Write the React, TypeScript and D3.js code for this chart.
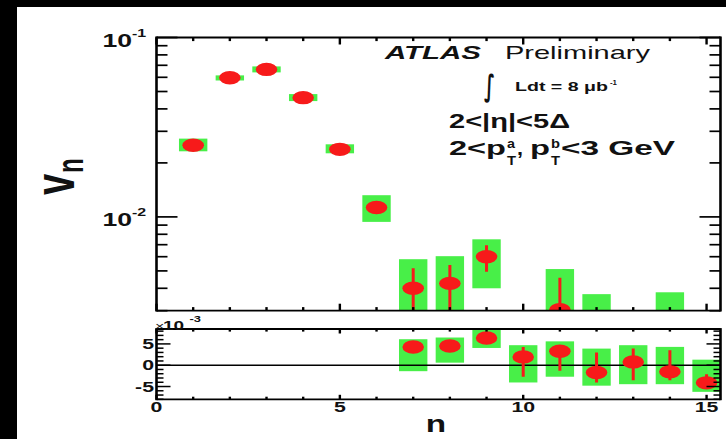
import React from 'react';
import * as d3 from 'd3';

// ---------- data ----------
const harmonics = [1, 2, 3, 4, 5, 6, 7, 8, 9, 10, 11, 12, 13, 14, 15];
// upper panel (log scale) v_n; null = not visible in range
const upperValue = [0.02506, 0.0597, 0.0664, 0.0462, 0.0238, 0.01128, 0.004, 0.00426, 0.006, null, 0.00304, null, null, null, null];
const upperStatLow = [0.0248, 0.0591, 0.0658, 0.0457, 0.0235, 0.0111, 0.0025, 0.0028, 0.00495, null, 0.0015, null, null, null, null];
const upperStatHigh = [0.0253, 0.0603, 0.067, 0.0467, 0.0241, 0.01145, 0.00518, 0.00539, 0.00696, null, 0.00458, null, null, null, null];
const upperSystLow = [0.02321, 0.0576, 0.0639, 0.04421, 0.02262, 0.00938, 0.002, 0.002, 0.004, null, 0.0015, 0.0015, null, 0.0015, null];
const upperSystHigh = [0.02731, 0.0615, 0.069, 0.04837, 0.02539, 0.01321, 0.00581, 0.00604, 0.0075, null, 0.00512, 0.00371, null, 0.0038, null];

// lower panel (linear, x10^-3)
const lowerHarmonics = [7, 8, 9, 10, 11, 12, 13, 14, 15];
const lowerValue = [4.29, 4.52, 6.4, 1.95, 3.28, -1.7, 0.78, -1.56, -4.14];
const lowerStatLow = [3.6, 3.8, 5.7, -2.7, -1.3, -4.05, -3.5, -3.5, -5.6];
const lowerStatHigh = [5.0, 5.2, 7.1, 4.3, 4.7, 3.0, 3.9, 3.5, -2.1];
const lowerSystLow = [-1.4, 0.6, 4.05, -4.05, -2.7, -4.8, -4.45, -4.45, -6.25];
const lowerSystHigh = [6.1, 6.5, 9.0, 4.7, 5.6, 3.9, 4.7, 4.3, 1.3];

const xTickValues = d3.range(0, 16);
const xTickLabels = ['0', '5', '10', '15'];
const lowerYTickLabels = ['5', '0', '-5'];

// ---------- layout ----------
const W = 726;
const H = 439;
const X0 = 156.5;
const X1 = 720.5;
const TOP0 = 37.5;
const TOP1 = 310.7;
const BOT0 = 329;
const BOT1 = 399.3;
const SX = 1.52;

const FONT = "'Liberation Sans', Arial, Helvetica, sans-serif";
const GREEN = '#48ef48';
const RED = '#f71a1a';

const x = d3.scaleLinear().domain([0, 15.38]).range([X0, X1]);
const yTop = d3.scaleLog().domain([0.003, 0.1]).range([TOP1, TOP0]);
const yBot = d3.scaleLinear().domain([-8, 8.5]).range([BOT1, BOT0]);

const HALF = 0.387;
const RX = 10.8;
const RY = 6.7;

function ST(props: any) {
  const { x: tx, y: ty, size, anchor = 'start', weight = 'bold', italic = false, sx = SX, children } = props;
  return (
    <text
      transform={`translate(${tx},${ty}) scale(${sx},1)`}
      fontSize={size}
      fontWeight={weight}
      fontStyle={italic ? 'italic' : 'normal'}
      textAnchor={anchor}
      fontFamily={FONT}
      fill="#111"
    >
      {children}
    </text>
  );
}

function LT(props: any) {
  const { x: tx, y: ty, size, len, weight = 'bold', italic = false, family = FONT, children } = props;
  return (
    <text
      x={tx}
      y={ty}
      fontSize={size}
      fontWeight={weight}
      fontStyle={italic ? 'italic' : 'normal'}
      textLength={len}
      lengthAdjust="spacingAndGlyphs"
      fontFamily={family}
      fill="#111"
    >
      {children}
    </text>
  );
}

export default function App() {
  const logTicks = yTop.ticks();
  const isMajorLog = (v: number) => Math.abs(Math.log10(v) - Math.round(Math.log10(v))) < 1e-6;
  const lowerYTicks = d3.range(-8, 9);

  return (
    <svg width={W} height={H} style={{ position: 'absolute', left: 0, top: 0, background: '#fff' }}>
      <defs>
        <clipPath id="clipTop">
          <rect x={X0} y={TOP0} width={X1 - X0} height={TOP1 - TOP0} />
        </clipPath>
        <clipPath id="clipBot">
          <rect x={X0} y={BOT0} width={X1 - X0} height={BOT1 - BOT0} />
        </clipPath>
      </defs>
      <rect x={0} y={0} width={W} height={H} fill="#fff" />
      <rect x={0} y={0} width={W} height={7} fill="#000" />
      <rect x={0} y={0} width={17} height={H} fill="#000" />

      {/* upper panel marks */}
      <g clipPath="url(#clipTop)">
        {harmonics.map((n, i) =>
          upperSystHigh[i] != null ? (
            <rect
              key={'ub' + n}
              x={x(n - HALF)}
              width={x(n + HALF) - x(n - HALF)}
              y={yTop(upperSystHigh[i] as number)}
              height={yTop(upperSystLow[i] as number) - yTop(upperSystHigh[i] as number)}
              fill={GREEN}
            />
          ) : null
        )}
        {harmonics.map((n, i) =>
          upperValue[i] != null ? (
            <g key={'up' + n}>
              <line
                x1={x(n)}
                x2={x(n)}
                y1={yTop(upperStatLow[i] as number)}
                y2={yTop(upperStatHigh[i] as number)}
                stroke={RED}
                strokeWidth={3}
              />
              <ellipse cx={x(n)} cy={yTop(upperValue[i] as number)} rx={RX} ry={RY} fill={RED} />
            </g>
          ) : null
        )}
      </g>

      {/* lower panel marks */}
      <g clipPath="url(#clipBot)">
        {lowerHarmonics.map((n, i) => (
          <rect
            key={'lb' + n}
            x={x(n - HALF)}
            width={x(n + HALF) - x(n - HALF)}
            y={yBot(lowerSystHigh[i])}
            height={yBot(lowerSystLow[i]) - yBot(lowerSystHigh[i])}
            fill={GREEN}
          />
        ))}
        <line x1={X0} x2={X1} y1={yBot(0)} y2={yBot(0)} stroke="#000" strokeWidth={1.4} />
        {lowerHarmonics.map((n, i) => (
          <g key={'lp' + n}>
            <line
              x1={x(n)}
              x2={x(n)}
              y1={yBot(lowerStatLow[i])}
              y2={yBot(lowerStatHigh[i])}
              stroke={RED}
              strokeWidth={3}
            />
            <ellipse cx={x(n)} cy={yBot(lowerValue[i])} rx={RX} ry={RY} fill={RED} />
          </g>
        ))}
      </g>

      {/* upper frame and ticks */}
      <g stroke="#000" fill="none">
        <line x1={X0} x2={X1} y1={TOP0} y2={TOP0} strokeWidth={1.8} />
        <line x1={X0} x2={X1} y1={TOP1} y2={TOP1} strokeWidth={1.8} />
        <line x1={X0} x2={X0} y1={TOP0 - 0.9} y2={TOP1 + 0.9} strokeWidth={2.6} />
        <line x1={X1} x2={X1} y1={TOP0 - 0.9} y2={TOP1 + 0.9} strokeWidth={2.6} />
        {xTickValues.map((t) => {
          const L = t % 5 === 0 ? 7 : 3.6;
          return (
            <g key={'utx' + t}>
              <line x1={x(t)} x2={x(t)} y1={TOP1} y2={TOP1 - L} strokeWidth={2.4} />
              <line x1={x(t)} x2={x(t)} y1={TOP0} y2={TOP0 + L} strokeWidth={2.4} />
            </g>
          );
        })}
        {logTicks.map((t) => {
          const L = isMajorLog(t) ? 21 : 11;
          return (
            <g key={'uty' + t}>
              <line x1={X0} x2={X0 + L} y1={yTop(t)} y2={yTop(t)} strokeWidth={1.7} />
              <line x1={X1} x2={X1 - L} y1={yTop(t)} y2={yTop(t)} strokeWidth={1.7} />
            </g>
          );
        })}
      </g>

      {/* lower frame and ticks */}
      <g stroke="#000" fill="none">
        <line x1={X0} x2={X1} y1={BOT0} y2={BOT0} strokeWidth={1.8} />
        <line x1={X0} x2={X1} y1={BOT1} y2={BOT1} strokeWidth={1.8} />
        <line x1={X0} x2={X0} y1={BOT0 - 0.9} y2={BOT1 + 0.9} strokeWidth={2.6} />
        <line x1={X1} x2={X1} y1={BOT0 - 0.9} y2={BOT1 + 0.9} strokeWidth={2.6} />
        {xTickValues.map((t) => {
          const L = t % 5 === 0 ? 4.5 : 2.6;
          return (
            <g key={'ltx' + t}>
              <line x1={x(t)} x2={x(t)} y1={BOT1} y2={BOT1 - L} strokeWidth={2.4} />
              <line x1={x(t)} x2={x(t)} y1={BOT0} y2={BOT0 + L} strokeWidth={2.4} />
            </g>
          );
        })}
        {lowerYTicks.map((t) => {
          const L = t % 5 === 0 ? 14 : 7;
          return (
            <g key={'lty' + t}>
              <line x1={X0} x2={X0 + L} y1={yBot(t)} y2={yBot(t)} strokeWidth={1.5} />
              <line x1={X1} x2={X1 - L} y1={yBot(t)} y2={yBot(t)} strokeWidth={1.5} />
            </g>
          );
        })}
      </g>

      {/* upper y tick labels */}
      {[0.1, 0.01].map((v, i) => (
        <g key={'uyl' + v}>
          <ST x={132} y={yTop(v) + 9.5} size={17.5} anchor="end">10</ST>
          <ST x={132} y={yTop(v) - 1} size={10.5}>{i === 0 ? '-1' : '-2'}</ST>
        </g>
      ))}

      {/* lower y tick labels */}
      {[5, 0, -5].map((v, i) => (
        <ST key={'lyl' + v} x={154} y={yBot(v) + 5} size={14} anchor="end">
          {lowerYTickLabels[i]}
        </ST>
      ))}
      <ST x={155} y={330} size={10.5} weight="normal">×</ST>
      <ST x={163} y={330} size={12.5}>10</ST>
      <ST x={189.5} y={322} size={8.5}>-3</ST>

      {/* x tick labels */}
      {[0, 5, 10, 15].map((v, i) => (
        <ST key={'xl' + v} x={x(v)} y={412} size={14} anchor="middle">
          {xTickLabels[i]}
        </ST>
      ))}

      {/* axis titles */}
      <ST x={436} y={432} size={23} anchor="middle" sx={1.45}>n</ST>
      <text
        transform={`translate(74,195) scale(${SX},1) rotate(-90)`}
        fontSize={38}
        fontWeight="bold"
        fontFamily={FONT}
        fill="#111"
      >
        v
      </text>
      <text
        transform={`translate(83,173) scale(${SX},1) rotate(-90)`}
        fontSize={24}
        fontWeight="bold"
        fontFamily={FONT}
        fill="#111"
      >
        n
      </text>

      {/* annotations */}
      <LT x={385} y={59} size={19} len={96} italic>ATLAS</LT>
      <LT x={505} y={59} size={19} len={145} weight="normal">Preliminary</LT>
      <LT x={484} y={96} size={30} len={11} family="'DejaVu Sans', sans-serif">∫</LT>
      <LT x={515} y={91} size={12} len={93}>Ldt = 8 μb</LT>
      <LT x={610} y={85} size={8} len={7}>-1</LT>

      <LT x={449} y={128} size={20} len={121}>2&lt;|η|&lt;5Δ</LT>

      <LT x={449} y={155} size={21} len={57}>2&lt;p</LT>
      <LT x={507} y={148} size={12} len={8}>a</LT>
      <LT x={507} y={165} size={12} len={9}>T</LT>
      <LT x={517} y={155} size={21} len={6}>,</LT>
      <LT x={530} y={155} size={21} len={20}>p</LT>
      <LT x={551} y={148} size={12} len={9}>b</LT>
      <LT x={551} y={165} size={12} len={9}>T</LT>
      <LT x={561} y={155} size={21} len={114}>&lt;3 GeV</LT>
    </svg>
  );
}
